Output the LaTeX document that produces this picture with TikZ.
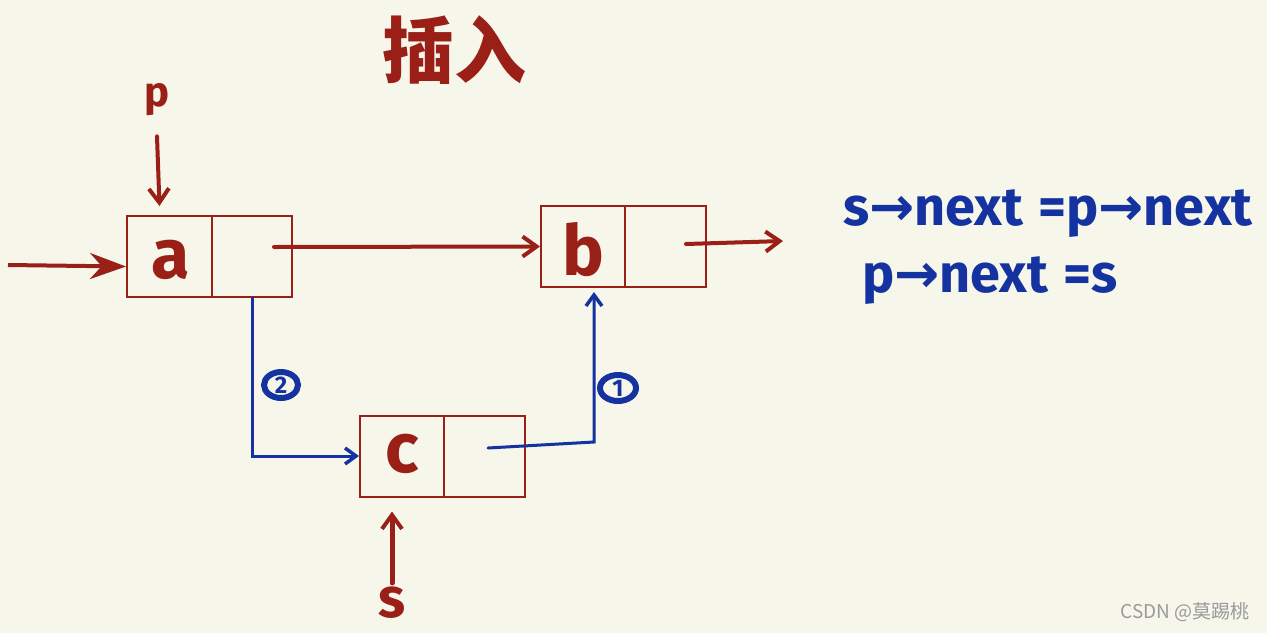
\documentclass[tikz,border=0pt]{standalone}
\usepackage{fontspec}
\setmainfont{Fira Sans}
\newfontfamily\cjkf{Noto Sans CJK SC}
\newfontfamily\symf{DejaVu Sans}
\usetikzlibrary{arrows.meta}
\definecolor{bgc}{HTML}{F6F6EA}
\definecolor{hred}{HTML}{9A1F17}
\definecolor{hblue}{HTML}{1432A0}
\definecolor{wm}{HTML}{9A9A9A}
\tikzset{
  cell/.style={draw=hred, line width=2pt, minimum height=81pt, inner sep=0pt},
  lbl/.style={text=hred, font=\bfseries\fontsize{70}{70}\selectfont, inner sep=0pt},
  rarrow/.style={draw=hred, line width=4pt, line cap=round, -{Straight Barb[length=14pt,width=20pt,line width=4pt]}},
  barrow/.style={draw=hblue, line width=3pt, line cap=round, -{Straight Barb[length=11pt,width=16pt,line width=3.5pt]}},
  bigarrow/.style={draw=hred, line width=4pt, -{Stealth[length=36pt,width=26pt]}},
  htext/.style={text=hblue, font=\bfseries\fontsize{54}{54}\selectfont, inner sep=0pt, anchor=base west},
  stepnum/.style={text=hblue, inner sep=0pt, font=\bfseries\fontsize{24}{24}\selectfont},
  stepring/.style={draw=hblue, line width=6pt},
}
\begin{document}
\begin{tikzpicture}[x=1pt,y=-1pt]
\fill[bgc] (0,0) rectangle (1267,633);
\useasboundingbox (0,0) rectangle (1267,633);

% title
\node[text=hred, font=\cjkf\bfseries\fontsize{72}{72}\selectfont] (title) at (454,50) {插入};

% boxes
\node[cell, minimum width=85pt] (a) at (169.5,256.5) {};
\node[cell, minimum width=80pt] (an) at (252,256.5) {};
\node[lbl] (la) at (171,260) {a};
\node[cell, minimum width=84pt] (b) at (583,246.5) {};
\node[cell, minimum width=81pt] (bn) at (665.5,246.5) {};
\node[lbl] (lb) at (583,250) {b};
\node[cell, minimum width=84pt] (c) at (402,456) {};
\node[cell, minimum width=81pt] (cn) at (484.5,456) {};
\node[lbl] (lc) at (402,454) {c};

% pointer labels
\node[text=hred, font=\bfseries\fontsize{42}{42}\selectfont, inner sep=0pt] (p) at (157,100) {p};
\node[text=hred, font=\bfseries\fontsize{56}{56}\selectfont, inner sep=0pt] (s) at (392,603) {s};

% coordinates for free ends
\coordinate (in) at (8,265);
\coordinate (aout) at (274,247);
\coordinate (bout) at (686,244);
\coordinate (bend) at (783,241);
\coordinate (cout) at (488,448);
\coordinate (c1) at (594,442);

% red connectors
\draw[bigarrow] (in) -- ([yshift=-10pt]a.west);
\draw[rarrow] (p.south) ++(0,20) -- ([xshift=-10pt,yshift=9pt]a.north);
\draw[rarrow] (aout) -- (b.west);
\draw[rarrow] (bout) -- (bend);
\draw[rarrow, line width=5pt] (s.north) ++(0,-4) -- ([xshift=-10pt,yshift=-14pt]c.south);

% blue connectors
\draw[barrow] (an.south) |- (c.west);
\draw[barrow] (cout) -- (c1) -- ([xshift=11pt,yshift=-4pt]b.south);

% step numbers
\node[stepnum] (n2) at (281,385) {2};
\draw[stepring] (n2.center) ellipse [x radius=17, y radius=13];
\node[stepnum] (n1) at (618,388) {1};
\draw[stepring] (n1.center) ellipse [x radius=18, y radius=13];

% code text
\node[htext] (l1) at (843,225) {s{\symf→}next\;=p{\symf→}next};
\node[htext] (l2) at (862,292) {p{\symf→}next\;=s};

% watermark
\node[text=wm, font=\cjkf\fontsize{19}{19}\selectfont, inner sep=0pt] (wmk) at (1185,612) {CSDN @莫踢桃};
\end{tikzpicture}
\end{document}
